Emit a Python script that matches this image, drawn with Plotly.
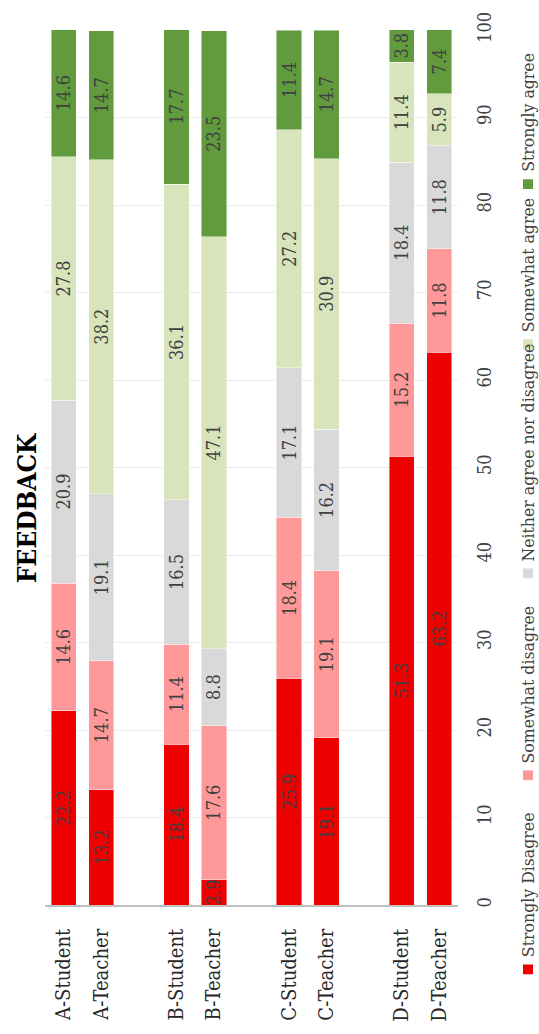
import plotly.graph_objects as go

# ---- data -------------------------------------------------------------
groups = ["A", "B", "C", "D"]
roles = ["Student", "Teacher"]
categories = [f"{g}-{r}" for g in groups for r in roles]

responses = [
    "Strongly Disagree",
    "Somewhat disagree",
    "Neither agree nor disagree",
    "Somewhat agree",
    "Strongly agree",
]

strongly_disagree = [22.2, 13.2, 18.4, 2.9, 25.9, 19.1, 51.3, 63.2]
somewhat_disagree = [14.6, 14.7, 11.4, 17.6, 18.4, 19.1, 15.2, 11.8]
neither = [20.9, 19.1, 16.5, 8.8, 17.1, 16.2, 18.4, 11.8]
somewhat_agree = [27.8, 38.2, 36.1, 47.1, 27.2, 30.9, 11.4, 5.9]
strongly_agree = [14.6, 14.7, 17.7, 23.5, 11.4, 14.7, 3.8, 7.4]

value_ticks = list(range(0, 101, 10))

# ---- style ------------------------------------------------------------
series = [strongly_disagree, somewhat_disagree, neither, somewhat_agree, strongly_agree]
colors = ["#EE0000", "#FF9999", "#D9D9D9", "#D8E4BC", "#629A3E"]
FONT = "DejaVu Serif Condensed, DejaVu Serif, serif"

W, H = 539, 1034
ML, MR, MT, MB = 45, 81, 25, 112
PW, PH = W - ML - MR, H - MT - MB


def px_x(p):
    return (p - ML) / PW


def px_y(p):
    return (H - MB - p) / PH


# each group takes one slot per role plus an empty spacer slot
slot = len(roles) + 1
positions = [gi * slot + ri for gi in range(len(groups)) for ri in range(len(roles))]

fig = go.Figure()
for name, vals, col in zip(responses, series, colors):
    fig.add_trace(go.Bar(
        name=name,
        x=positions,
        y=vals,
        width=0.675,
        marker=dict(color=col, line=dict(color="rgba(255,255,255,0.55)", width=0.8)),
        text=[f"{v:.1f}" for v in vals],
        textposition="inside",
        insidetextanchor="middle",
        textangle=-90,
        constraintext="none",
        textfont=dict(family=FONT, size=18, color="#404040"),
        showlegend=False,
        hovertemplate="%{text}<extra>" + name + "</extra>",
    ))

# legend drawn as swatches + rotated labels, reading bottom to top
legend_square_centers = [988, 789, 582, 347, 183]
legend_x = 528
sq = 10
shapes = []
annotations = []
for name, col, cy in zip(responses, colors, legend_square_centers):
    shapes.append(dict(
        type="rect", xref="paper", yref="paper",
        x0=px_x(legend_x - sq / 2), x1=px_x(legend_x + sq / 2),
        y0=px_y(cy + sq / 2), y1=px_y(cy - sq / 2),
        fillcolor=col, line=dict(width=0),
    ))
    annotations.append(dict(
        text=name, xref="paper", yref="paper",
        x=px_x(legend_x), y=px_y(cy - sq / 2 - 5),
        xanchor="center", yanchor="bottom", textangle=-90,
        showarrow=False, font=dict(family=FONT, size=17.5, color="#404040"),
    ))

annotations.append(dict(
    text="<b>FEEDBACK</b>", xref="paper", yref="paper",
    x=px_x(27), y=px_y(515), xanchor="center", yanchor="middle",
    textangle=-90, showarrow=False,
    font=dict(family=FONT, size=26, color="#000000"),
))

fig.update_layout(
    width=W, height=H,
    margin=dict(l=ML, r=MR, t=MT, b=MB, pad=0),
    barmode="stack",
    plot_bgcolor="white",
    paper_bgcolor="white",
    font=dict(family=FONT, color="#404040"),
    shapes=shapes,
    annotations=annotations,
    xaxis=dict(
        range=[-0.5, positions[-1] + 0.5],
        tickmode="array", tickvals=positions, ticktext=categories,
        tickangle=-90, tickfont=dict(family=FONT, size=20, color="#262626"),
        showgrid=False, zeroline=False,
        showline=True, linecolor="#C0C0C0", linewidth=1.5,
        ticks="", ticklabelstandoff=14, fixedrange=True,
    ),
    yaxis=dict(
        range=[0, 100], side="right",
        tickmode="array", tickvals=value_ticks,
        tickangle=-90, tickfont=dict(family=FONT, size=18, color="#404040"),
        showgrid=True, gridcolor="#EBEBEB", gridwidth=1,
        zeroline=False, showline=False,
        ticks="", ticklabelstandoff=14, fixedrange=True,
    ),
)

fig.write_html("out.html")
